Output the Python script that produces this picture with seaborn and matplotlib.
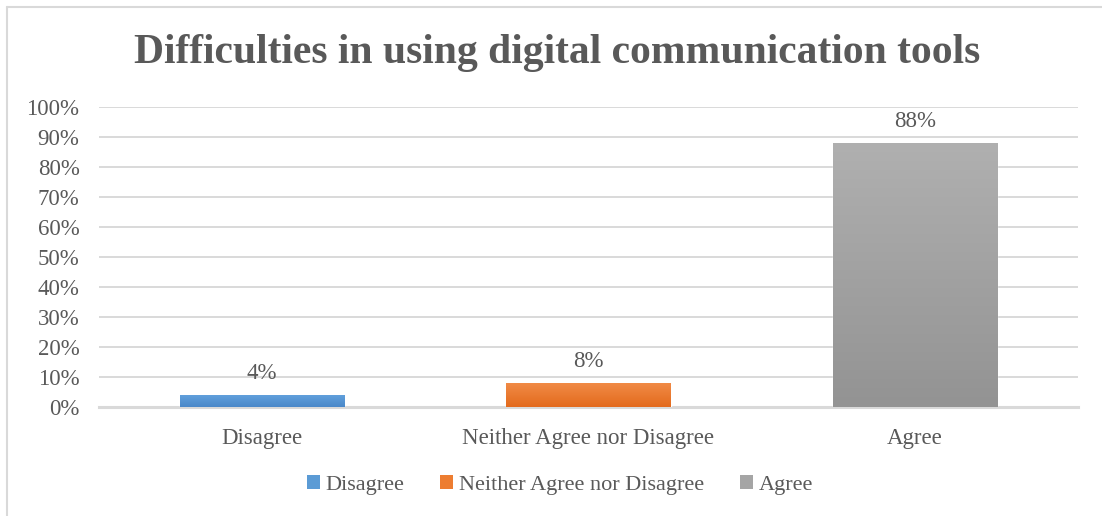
import numpy as np
import pandas as pd
import matplotlib
matplotlib.use("Agg")
import matplotlib.pyplot as plt
from matplotlib.patches import Patch
from matplotlib.lines import Line2D
from matplotlib.colors import LinearSegmentedColormap
import seaborn as sns

# Survey responses (share of respondents)
categories = ["Disagree", "Neither Agree nor Disagree", "Agree"]
shares = [4, 8, 88]
y_ticks = [0, 10, 20, 30, 40, 50, 60, 70, 80, 90, 100]

# Bar colours: (top, bottom) for a soft vertical gradient
bar_top = ["#62A2DD", "#F18C48", "#B0B0B0"]
bar_bottom = ["#4A87C9", "#E36A1C", "#939393"]
bar_mid = ["#5B9BD5", "#ED7D31", "#A5A5A5"]

text_grey = "#595959"
grid_grey = "#D9D9D9"

sns.set_theme(style="white")
plt.rcParams["font.family"] = ["Liberation Serif", "DejaVu Serif"]

df = pd.DataFrame({"category": categories, "share": shares})

fig = plt.figure(figsize=(11.02, 5.16), dpi=100)
ax = fig.add_axes([0.0898, 0.2112, 0.8884, 0.5814])

sns.barplot(data=df, x="category", y="share", hue="category",
            palette=bar_mid, order=categories, hue_order=categories,
            width=0.503, dodge=False, legend=False, ax=ax, zorder=3)

ax.set_ylim(0, 100)
ax.set_xlim(-0.5, len(categories) - 0.5)
ax.set_yticks(y_ticks)
ax.set_yticklabels([f"{t}%" for t in y_ticks])
ax.yaxis.grid(True, color=grid_grey, linewidth=1.4, zorder=0)
ax.set_axisbelow(True)
for side in ["top", "right", "left"]:
    ax.spines[side].set_visible(False)
ax.spines["bottom"].set_color(grid_grey)
ax.spines["bottom"].set_linewidth(2.2)
ax.spines["bottom"].set_zorder(2)
ax.tick_params(axis="both", length=0, labelsize=16.5, labelcolor=text_grey)
ax.tick_params(axis="y", pad=14)
ax.tick_params(axis="x", pad=15)
ax.set_xlabel("")
ax.set_ylabel("")

# Gradient fill and value labels for each bar
for i, patch in enumerate(ax.patches[:len(categories)]):
    x0 = patch.get_x()
    w = patch.get_width()
    h = patch.get_height()
    cmap = LinearSegmentedColormap.from_list(f"g{i}", [bar_bottom[i], bar_top[i]])
    grad = np.linspace(0, 1, 256).reshape(-1, 1)
    im = ax.imshow(grad, cmap=cmap, aspect="auto", origin="lower",
                   extent=[x0, x0 + w, 0, h], zorder=4, interpolation="bicubic")
    im.set_clip_path(patch)
    ax.annotate(f"{shares[i]}%", (x0 + w / 2, h), xytext=(0, 8),
                textcoords="offset points", ha="center", va="bottom",
                fontsize=16.5, color=text_grey, zorder=5)

ax.set_xlim(-0.5, len(categories) - 0.5)
ax.set_ylim(0, 100)

fig.text(0.506, 0.898, "Difficulties in using digital communication tools",
         ha="center", va="center", fontsize=30, fontweight="bold", color=text_grey)

handles = [Patch(facecolor=c, edgecolor="none") for c in bar_mid]
fig.legend(handles, categories, loc="center", bbox_to_anchor=(0.508, 0.060),
           ncol=3, frameon=False, fontsize=16, labelcolor=text_grey,
           handlelength=0.6, handleheight=0.6, handletextpad=0.25,
           columnspacing=1.6)

# Chart frame (left and top edges)
fig.add_artist(Line2D([0.0068, 0.0068], [0.0, 0.9865], transform=fig.transFigure,
                      color=grid_grey, linewidth=1.5))
fig.add_artist(Line2D([0.0068, 1.0], [0.9865, 0.9865], transform=fig.transFigure,
                      color=grid_grey, linewidth=1.5))

fig.savefig("out.png", dpi=100, facecolor="white")
